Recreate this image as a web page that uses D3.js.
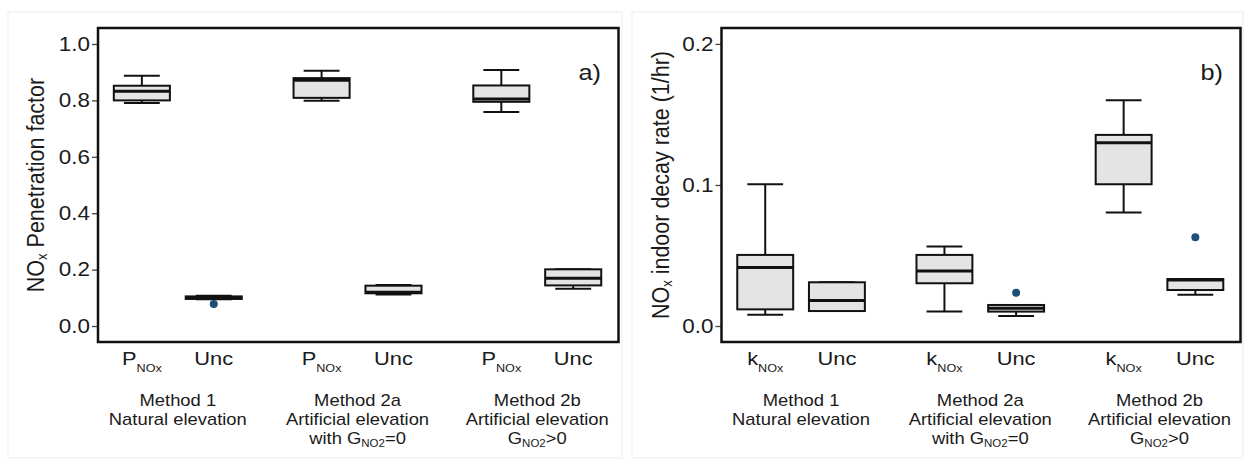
<!DOCTYPE html>
<html>
<head>
<meta charset="utf-8">
<script src="https://cdn.jsdelivr.net/npm/d3@7"></script>
<style>
  body { margin: 0; background: #fff; }
  text { font-family: "Liberation Sans", Arial, sans-serif; fill: #1a1a1a; }
</style>
</head>
<body>
<svg id="chart" width="1244" height="459"></svg>
<script>
/* Two box-plot panels: NOx penetration factor (a) and NOx indoor decay rate (b).
   Each box is read off the picture as low whisker, Q1, median, Q3, high whisker. */

const methodLabels = [
    ['Method 1', 'Natural elevation'],
    ['Method 2a', 'Artificial elevation', 'with G_{NO2}=0'],
    ['Method 2b', 'Artificial elevation', 'G_{NO2}>0']
];

// panel a
const penCategories = ['P_{NOx}', 'Unc', 'P_{NOx}', 'Unc', 'P_{NOx}', 'Unc'];
const penLow    = [0.791, 0.095, 0.799, 0.112, 0.759, 0.132];
const penQ1     = [0.800, 0.096, 0.809, 0.116, 0.795, 0.144];
const penMedian = [0.832, 0.100, 0.871, 0.120, 0.805, 0.169];
const penQ3     = [0.852, 0.105, 0.879, 0.143, 0.853, 0.201];
const penHigh   = [0.887, 0.107, 0.905, 0.145, 0.908, 0.201];
const penOutliers = [[1, 0.078]];          // [box index, value]
const penTicks = [0.0, 0.2, 0.4, 0.6, 0.8, 1.0];

// panel b
const decayCategories = ['k_{NOx}', 'Unc', 'k_{NOx}', 'Unc', 'k_{NOx}', 'Unc'];
const decayLow    = [0.0080, 0.0106, 0.0102, 0.0071, 0.0804, 0.0222];
const decayQ1     = [0.0118, 0.0106, 0.0303, 0.0102, 0.1005, 0.0255];
const decayMedian = [0.0414, 0.0180, 0.0390, 0.0125, 0.1300, 0.0326];
const decayQ3     = [0.0504, 0.0310, 0.0504, 0.0149, 0.1355, 0.0333];
const decayHigh   = [0.1005, 0.0310, 0.0563, 0.0149, 0.1600, 0.0333];
const decayOutliers = [[3, 0.0236], [5, 0.0629]];
const decayTicks = [0.0, 0.1, 0.2];

const STRETCH = 1.15;   // the source picture is a little wider than tall
const svg = d3.select('#chart');

// box i sits at 1,2 | 3.5,4.5 | 6,7
const slot = (i) => Math.floor(i / 2) * 2.5 + (i % 2) + 1;

// write "P_{NOx}" style strings as tspans with lowered small subscripts
function richText(textSel, str, subSize, subShift) {
    let parts = str.split(/_\{([^}]*)\}/), offset = 0;
    parts.forEach((part, i) => {
        if (!part) return;
        let isSub = i % 2 === 1;
        let want = isSub ? subShift : 0;
        let t = textSel.append('tspan').text(part).attr('dy', want - offset);
        if (isSub) t.style('font-size', subSize + 'px');
        offset = want;
    });
}

function makePanel(p) {
    let g = svg.append('g');
    let x = d3.scaleLinear().domain([0.39, 7.63]).range([p.left, p.right]);
    let y = d3.scaleLinear().domain(p.yDomain).range([p.bottom, p.top]);

    // faint outer frame of the panel image
    g.append('rect')
        .attr('x', p.outer[0]).attr('y', p.outer[1])
        .attr('width', p.outer[2]).attr('height', p.outer[3])
        .attr('fill', 'none').attr('stroke', '#ebebeb').attr('stroke-width', 1);

    let axis = g.append('g')
        .attr('transform', `translate(${p.left},0)`)
        .call(d3.axisLeft(y).tickValues(p.ticks).tickSize(6).tickFormat(d3.format('.1f')));
    axis.select('.domain').remove();
    axis.selectAll('.tick line').attr('stroke', '#444').attr('stroke-width', 1.3);
    axis.selectAll('.tick text')
        .attr('x', -8 / STRETCH)
        .attr('transform', `scale(${STRETCH},1)`)
        .style('font-size', '19.5px')
        .style('font-family', '"Liberation Sans", Arial, sans-serif')
        .attr('fill', '#1a1a1a');

    let n = p.low.length;
    for (let i = 0; i < n; i++) {
        let cx = x(slot(i));
        let hw = x(slot(i) + 0.39) - cx;
        let cap = hw * 0.64;
        let lines = [
            [cx, y(p.q3[i]), cx, y(p.high[i])],
            [cx, y(p.q1[i]), cx, y(p.low[i])],
            [cx - cap, y(p.high[i]), cx + cap, y(p.high[i])],
            [cx - cap, y(p.low[i]), cx + cap, y(p.low[i])]
        ];
        g.selectAll(null).data(lines).enter().append('line')
            .attr('x1', d => d[0]).attr('y1', d => d[1])
            .attr('x2', d => d[2]).attr('y2', d => d[3])
            .attr('stroke', '#111').attr('stroke-width', 2);
        g.append('rect')
            .attr('x', cx - hw).attr('y', y(p.q3[i]))
            .attr('width', 2 * hw).attr('height', y(p.q1[i]) - y(p.q3[i]))
            .attr('fill', '#e4e4e4').attr('stroke', '#111').attr('stroke-width', 2);
        g.append('line')
            .attr('x1', cx - hw).attr('x2', cx + hw)
            .attr('y1', y(p.median[i])).attr('y2', y(p.median[i]))
            .attr('stroke', '#111').attr('stroke-width', 3);

        let lab = g.append('text')
            .attr('transform', `translate(${cx},365) scale(${STRETCH},1)`)
            .attr('text-anchor', 'middle')
            .style('font-size', '19px');
        richText(lab, p.categories[i], 11, 6.5);
    }

    g.selectAll('circle.out').data(p.outliers).enter().append('circle')
        .attr('class', 'out')
        .attr('cx', d => x(slot(d[0])))
        .attr('cy', d => y(d[1]))
        .attr('r', 4)
        .attr('fill', '#1f4e79');

    // plot frame
    g.append('rect')
        .attr('x', p.left).attr('y', p.top)
        .attr('width', p.right - p.left).attr('height', p.bottom - p.top)
        .attr('fill', 'none').attr('stroke', '#111').attr('stroke-width', 2.5);

    // method labels under each pair
    methodLabels.forEach((lines, m) => {
        let cx = (x(slot(2 * m)) + x(slot(2 * m + 1))) / 2;
        lines.forEach((line, k) => {
            let t = g.append('text')
                .attr('transform', `translate(${cx},${405.5 + k * 19}) scale(${STRETCH},1)`)
                .attr('text-anchor', 'middle')
                .style('font-size', '16px');
            richText(t, line, 10, 3.5);
        });
    });

    let title = g.append('text')
        .attr('transform', `translate(${p.titleX},${(p.top + p.bottom) / 2}) rotate(-90) scale(1,${STRETCH})`)
        .attr('text-anchor', 'middle')
        .style('font-size', '21.5px');
    richText(title, p.title, 13, 3);

    g.append('text')
        .attr('transform', `translate(${p.right - 40},80) scale(${STRETCH},1)`)
        .style('font-family', '"Liberation Sans Narrow", "Liberation Sans", sans-serif')
        .style('font-size', '22px')
        .text(p.tag);
}

makePanel({
    left: 98, right: 618.5, top: 28, bottom: 342,
    yDomain: [-0.0567, 1.0567], ticks: penTicks,
    outer: [8, 12, 614, 446],
    categories: penCategories,
    low: penLow, q1: penQ1, median: penMedian, q3: penQ3, high: penHigh,
    outliers: penOutliers,
    title: 'NO_{x} Penetration factor', titleX: 44, tag: 'a)'
});

makePanel({
    left: 721.5, right: 1240.5, top: 28, bottom: 342,
    yDomain: [-0.01135, 0.2113], ticks: decayTicks,
    outer: [632, 12, 611, 446],
    categories: decayCategories,
    low: decayLow, q1: decayQ1, median: decayMedian, q3: decayQ3, high: decayHigh,
    outliers: decayOutliers,
    title: 'NO_{x} indoor decay rate (1/hr)', titleX: 669, tag: 'b)'
});
</script>
</body>
</html>
